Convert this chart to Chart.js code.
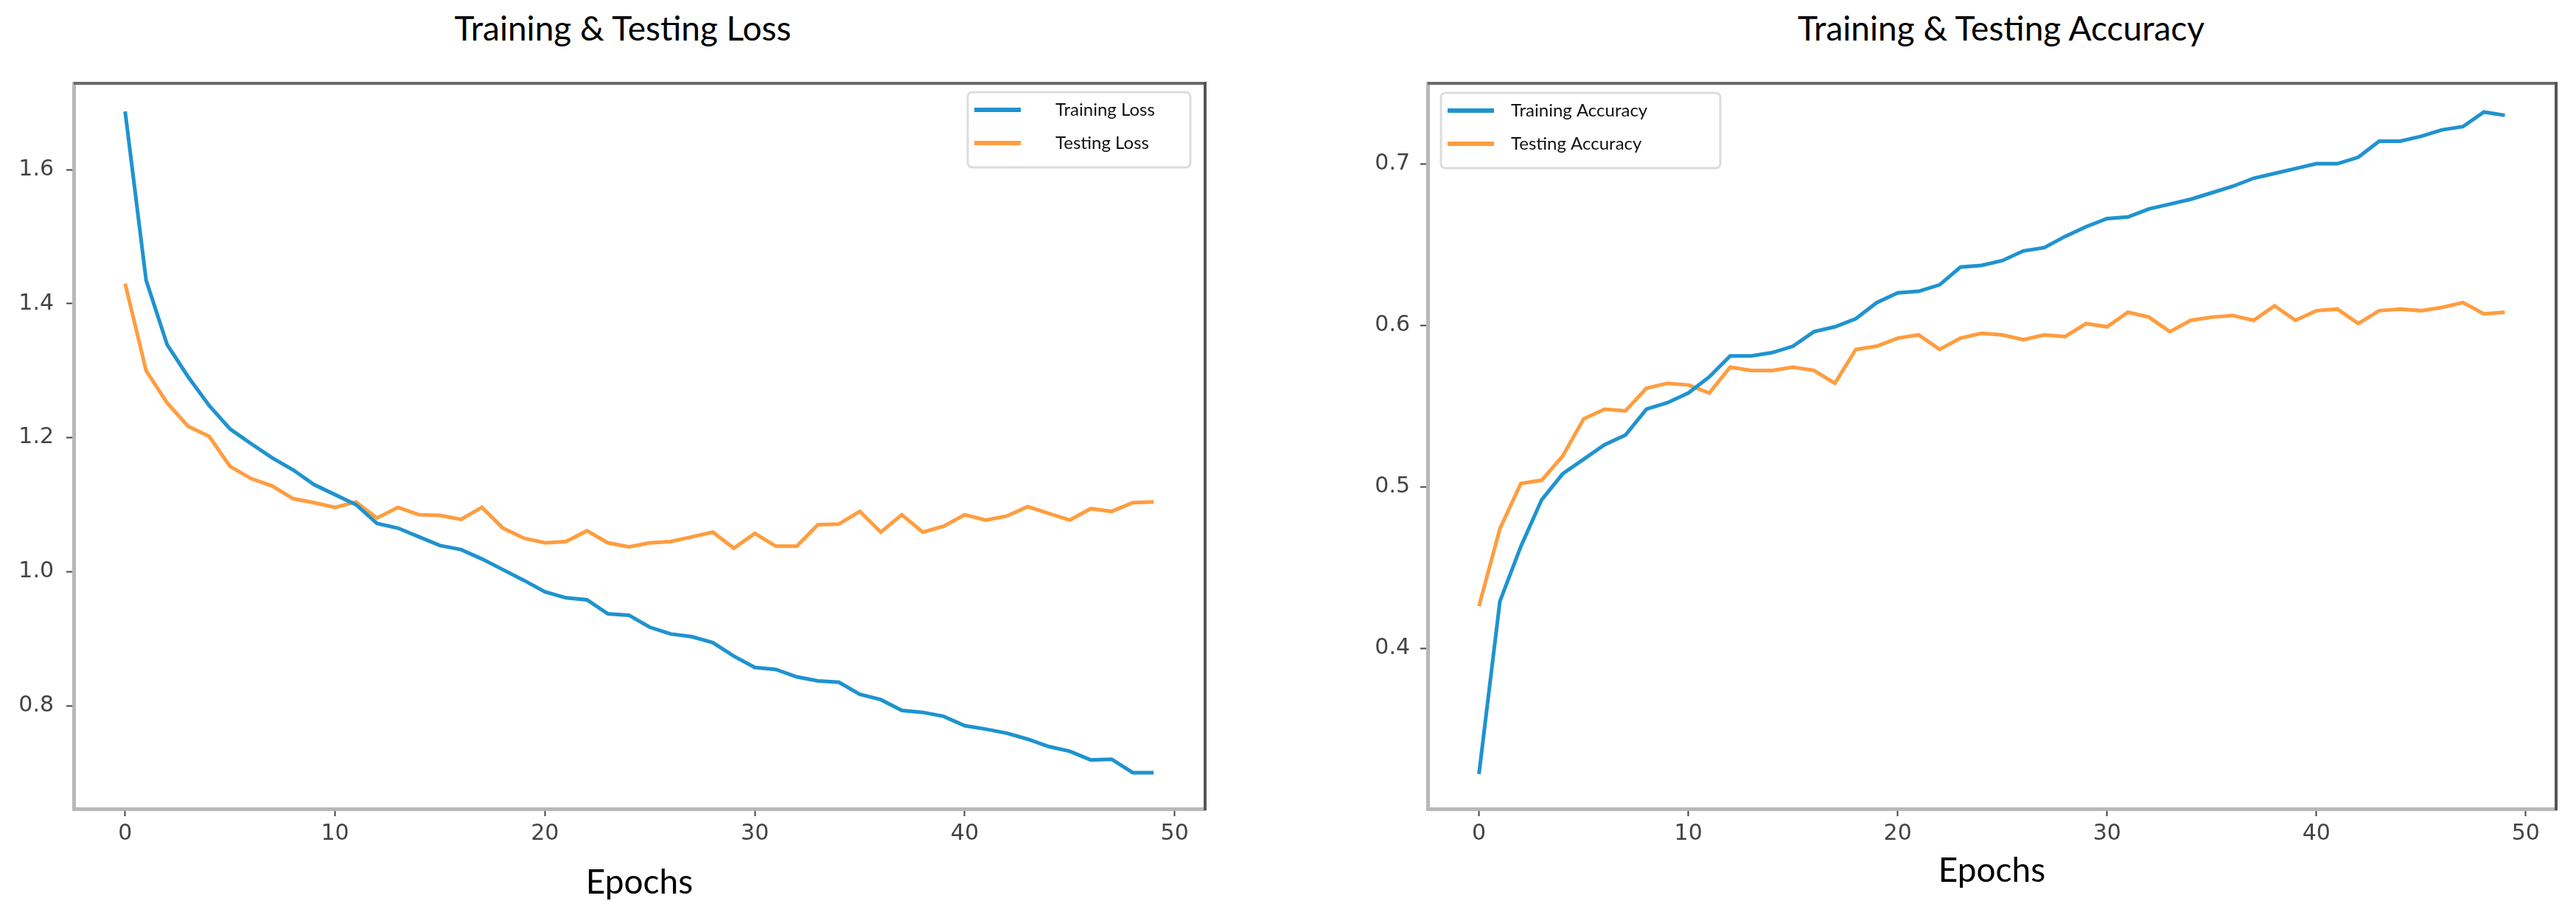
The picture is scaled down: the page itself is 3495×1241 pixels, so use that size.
<!DOCTYPE html>
<html>
<head>
<meta charset="utf-8">
<script src="https://cdn.jsdelivr.net/npm/chart.js@4/dist/chart.umd.min.js"></script>
<style>
  body { margin: 0; background: #fff; overflow: hidden; width: 3495px; height: 1241px; position: relative; }
  canvas { position: absolute; top: 0; }
  .title { position: absolute; top: 10px; font-family: Lato, sans-serif; font-size: 46px; color: #000; white-space: nowrap; transform: translateX(-50%); }
</style>
</head>
<body>
<div class="title" style="left:845px">Training &amp; Testing Loss</div>
<div class="title" style="left:2715px">Training &amp; Testing Accuracy</div>
<canvas id="lossChart" width="1700" height="1241" style="left:0"></canvas>
<canvas id="accChart" width="1715" height="1241" style="left:1780px"></canvas>
<script>
// data
const epochs = Array.from({ length: 50 }, (_, i) => i);
const trainLoss = [1.687, 1.435, 1.339, 1.291, 1.248, 1.213, 1.191, 1.170, 1.152, 1.130,
  1.115, 1.100, 1.072, 1.065, 1.052, 1.039, 1.033, 1.019, 1.003, 0.987,
  0.970, 0.961, 0.958, 0.937, 0.935, 0.917, 0.907, 0.903, 0.894, 0.874,
  0.857, 0.854, 0.843, 0.837, 0.835, 0.817, 0.809, 0.793, 0.790, 0.784,
  0.770, 0.765, 0.759, 0.750, 0.739, 0.732, 0.719, 0.720, 0.700, 0.700];
const testLoss = [1.430, 1.300, 1.252, 1.217, 1.202, 1.157, 1.139, 1.128, 1.109, 1.103,
  1.096, 1.104, 1.080, 1.096, 1.085, 1.084, 1.078, 1.096, 1.065, 1.050,
  1.043, 1.045, 1.061, 1.043, 1.037, 1.043, 1.045, 1.052, 1.059, 1.035,
  1.057, 1.038, 1.038, 1.070, 1.071, 1.090, 1.059, 1.085, 1.059, 1.068,
  1.085, 1.077, 1.083, 1.097, 1.087, 1.077, 1.094, 1.090, 1.103, 1.104];
const trainAcc = [0.322, 0.429, 0.463, 0.492, 0.508, 0.517, 0.526, 0.532, 0.548, 0.552,
  0.558, 0.568, 0.581, 0.581, 0.583, 0.587, 0.596, 0.599, 0.604, 0.614,
  0.620, 0.621, 0.625, 0.636, 0.637, 0.640, 0.646, 0.648, 0.655, 0.661,
  0.666, 0.667, 0.672, 0.675, 0.678, 0.682, 0.686, 0.691, 0.694, 0.697,
  0.700, 0.700, 0.704, 0.714, 0.714, 0.717, 0.721, 0.723, 0.732, 0.730];
const testAcc = [0.426, 0.474, 0.502, 0.504, 0.519, 0.542, 0.548, 0.547, 0.561, 0.564,
  0.563, 0.558, 0.574, 0.572, 0.572, 0.574, 0.572, 0.564, 0.585, 0.587,
  0.592, 0.594, 0.585, 0.592, 0.595, 0.594, 0.591, 0.594, 0.593, 0.601,
  0.599, 0.608, 0.605, 0.596, 0.603, 0.605, 0.606, 0.603, 0.612, 0.603,
  0.609, 0.610, 0.601, 0.609, 0.610, 0.609, 0.611, 0.614, 0.607, 0.608];

const epochTicks = [0, 10, 20, 30, 40, 50];
const lossTicks = [0.8, 1.0, 1.2, 1.4, 1.6];
const accTicks = [0.4, 0.5, 0.6, 0.7];

const BLUE = '#1f93cf';
const ORANGE = '#ff9d3f';

// top + right spines (left/bottom come from the axis borders)
const framePlugin = {
  id: 'frame',
  afterDatasetsDraw(chart) {
    const { ctx, chartArea: a } = chart;
    ctx.save();
    ctx.lineWidth = 4;
    ctx.strokeStyle = '#6a6a6a';
    ctx.beginPath();
    ctx.moveTo(a.left, a.top);
    ctx.lineTo(a.right, a.top);
    ctx.stroke();
    ctx.strokeStyle = '#555';
    ctx.beginPath();
    ctx.moveTo(a.right, a.top - 2);
    ctx.lineTo(a.right, a.bottom + 2);
    ctx.stroke();
    ctx.restore();
  }
};

// legend box drawn inside the plot area
const boxLegend = {
  id: 'boxLegend',
  afterDraw(chart, args, opts) {
    const { ctx, chartArea: a } = chart;
    const bx = opts.right != null ? a.right - opts.right - opts.width : a.left + opts.left;
    const by = a.top + opts.top;
    ctx.save();
    ctx.fillStyle = 'rgba(255,255,255,0.9)';
    ctx.strokeStyle = '#dcdcdc';
    ctx.lineWidth = 3;
    ctx.beginPath();
    ctx.roundRect(bx, by, opts.width, opts.height, 6);
    ctx.fill();
    ctx.stroke();
    ctx.font = '24px Lato, sans-serif';
    ctx.textBaseline = 'middle';
    chart.data.datasets.forEach((ds, i) => {
      const y = by + 24 + i * 45;
      ctx.strokeStyle = ds.borderColor;
      ctx.lineWidth = 6;
      ctx.beginPath();
      ctx.moveTo(bx + 9, y);
      ctx.lineTo(bx + 72, y);
      ctx.stroke();
      ctx.fillStyle = '#111';
      ctx.fillText(ds.label, bx + opts.textX, y);
    });
    ctx.restore();
  }
};

function series(label, values, color) {
  return {
    label: label,
    data: epochs.map((e, i) => ({ x: e, y: values[i] })),
    borderColor: color,
    backgroundColor: color,
    borderWidth: 5,
    pointRadius: 0,
    tension: 0,
    fill: false
  };
}

function makeChart(id, cfg) {
  const tickFont = { family: 'DejaVu Sans', size: 30 };
  return new Chart(document.getElementById(id), {
    type: 'line',
    data: { datasets: cfg.datasets },
    options: {
      responsive: false,
      animation: false,
      layout: { padding: { top: 113, right: cfg.padRight, left: 0, bottom: 0 } },
      plugins: {
        legend: { display: false },
        title: { display: false },
        tooltip: { enabled: false },
        boxLegend: cfg.legend
      },
      scales: {
        x: {
          type: 'linear',
          min: -2.45,
          max: 51.45,
          afterBuildTicks: s => { s.ticks = epochTicks.map(v => ({ value: v })); },
          afterFit: s => { s.height = 144; },
          ticks: { font: tickFont, color: '#444', padding: 6, callback: v => String(v) },
          grid: { drawOnChartArea: false, drawTicks: true, tickLength: 10, tickColor: '#444', tickWidth: 2 },
          border: { display: true, color: '#b8b8b8', width: 5 },
          title: {
            display: true,
            text: 'Epochs',
            color: '#000',
            font: { family: 'Lato', size: 46 },
            padding: { top: 0, bottom: cfg.epochsPad }
          }
        },
        y: {
          min: cfg.yMin,
          max: cfg.yMax,
          afterBuildTicks: s => { s.ticks = cfg.yTicks.map(v => ({ value: v })); },
          afterFit: s => { s.width = cfg.yWidth; },
          ticks: { font: tickFont, color: '#444', padding: cfg.yPad, callback: v => v.toFixed(1) },
          grid: { drawOnChartArea: false, drawTicks: true, tickLength: 10, tickColor: '#444', tickWidth: 2 },
          border: { display: true, color: '#b8b8b8', width: 5 }
        }
      }
    },
    plugins: [framePlugin, boxLegend]
  });
}

makeChart('lossChart', {
  datasets: [series('Training Loss', trainLoss, BLUE), series('Testing Loss', testLoss, ORANGE)],
  yMin: 0.646, yMax: 1.729, yTicks: lossTicks,
  yWidth: 100, yPad: 17, padRight: 65, epochsPad: 16,
  legend: { right: 20, top: 12, width: 302, height: 102, textX: 119 }
});

makeChart('accChart', {
  datasets: [series('Training Accuracy', trainAcc, BLUE), series('Testing Accuracy', testAcc, ORANGE)],
  yMin: 0.3005, yMax: 0.7498, yTicks: accTicks,
  yWidth: 157, yPad: 14, padRight: 27, epochsPad: 32,
  legend: { left: 18, top: 13, width: 379, height: 102, textX: 95 }
});
</script>
</body>
</html>
